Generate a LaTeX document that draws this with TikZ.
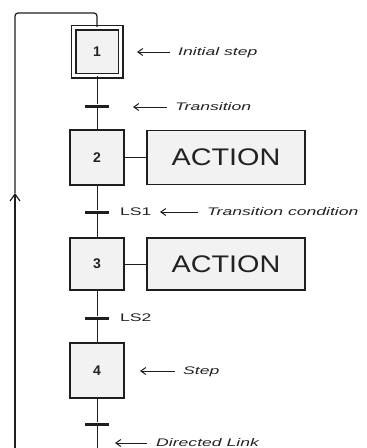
\documentclass[tikz,border=0pt]{standalone}
\usepackage{fontspec}
\setmainfont{Liberation Sans}
\newfontfamily\notefont[FakeStretch=1.6]{Liberation Sans}
\newfontfamily\actionfont[FakeStretch=1.2]{Liberation Sans}
\usetikzlibrary{arrows.meta}

\begin{document}
\begin{tikzpicture}[
  x=1pt, y=-1pt,
  stepbox/.style={rectangle, draw=sfcLine, line width=1.4pt, fill=sfcFill,
    minimum width=54pt, minimum height=55pt, inner sep=0pt,
    font=\bfseries\fontsize{14}{14}\selectfont},
  initbox/.style={stepbox, double, double distance=3.6pt, line width=1.2pt,
    minimum width=47pt, minimum height=48pt},
  actbox/.style={rectangle, draw=sfcLine, line width=1.4pt, fill=sfcFill,
    minimum width=158pt, minimum height=54pt, inner sep=0pt,
    font=\actionfont\fontsize{24}{24}\selectfont},
  trans/.style={rectangle, fill=sfcLine, minimum width=24pt,
    minimum height=3pt, inner sep=0pt},
  link/.style={line width=1pt, color=sfcLine},
  pointer/.style={-{Straight Barb[length=5pt,width=7pt]}, line width=1pt,
    color=sfcLine},
  note/.style={font=\notefont\itshape\fontsize{11}{11}\selectfont,
    anchor=west, inner sep=0pt, text height=8pt, text depth=2pt},
  cond/.style={note, font=\notefont\fontsize{11}{11}\selectfont},
]
\definecolor{sfcLine}{HTML}{1E1E1E}
\definecolor{sfcFill}{HTML}{F2F2F2}
\definecolor{sfcText}{HTML}{222222}
\color{sfcText}
\useasboundingbox (0,0) rectangle (367,448);

% steps, transitions and actions down the chain
\node[initbox] (s1) at (97,51.5) {1};
\node[trans] (t1) at (97,106) {};
\node[stepbox] (s2) at (97,157.5) {2};
\node[actbox] (a2) at (226,157.5) {ACTION};
\node[trans] (t2) at (97,212) {};
\node[stepbox, minimum height=52pt] (s3) at (97,264) {3};
\node[actbox, minimum height=52pt] (a3) at (226,264) {ACTION};
\node[trans] (t3) at (97,318) {};
\node[stepbox] (s4) at (97,370.5) {4};
\node[trans] (t4) at (97,424) {};

\coordinate (tail) at (97,448);
\draw[link] (s1) -- (t1) -- (s2) -- (t2) -- (s3) -- (t3) -- (s4) -- (t4) -- (tail);
\draw[link] (s2) -- (a2);
\draw[link] (s3) -- (a3);

% return path back to the initial step
\coordinate (loopbot) at (15,448);
\coordinate (looparrow) at (15,193);
\coordinate (looptop) at (15,13);
\draw[link, line width=1.2pt, -{Straight Barb[length=7pt,width=10pt]}]
  (loopbot) -- (looparrow);
\draw[link, line width=1.2pt, rounded corners=3pt]
  (looparrow) -- (looptop) -| (s1);

% labels
\node[note] (initlbl) at (178,52) {Initial step};
\node[note] (translbl) at (175,107) {Transition};
\node[cond] (ls1) at (120,212) {LS1};
\node[note] (condlbl) at (207,212) {Transition condition};
\node[cond] (ls2) at (120,318) {LS2};
\node[note] (steplbl) at (183,371) {Step};
\node[note] (linklbl) at (156,443) {Directed Link};

\coordinate (initptr) at (137,52);
\coordinate (transptr) at (133,107);
\coordinate (condptr) at (160,212);
\coordinate (stepptr) at (140,371);
\coordinate (linkptr) at (115,443);
\draw[pointer] ([xshift=-8pt]initlbl.west) -- (initptr);
\draw[pointer] ([xshift=-8pt]translbl.west) -- (transptr);
\draw[pointer] ([xshift=-9pt]condlbl.west) -- (condptr);
\draw[pointer] ([xshift=-8pt]steplbl.west) -- (stepptr);
\draw[pointer] ([xshift=-9pt]linklbl.west) -- (linkptr);
\end{tikzpicture}
\end{document}
